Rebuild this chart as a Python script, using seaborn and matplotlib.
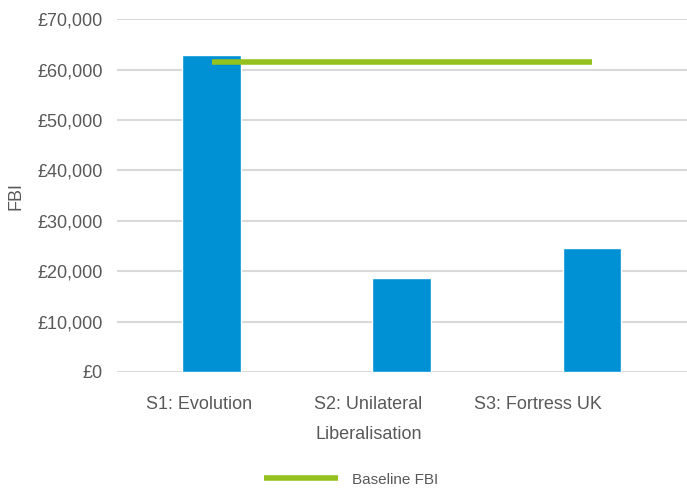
import seaborn as sns
import matplotlib.pyplot as plt
import matplotlib.ticker as mticker
import matplotlib.transforms as mtransforms
import numpy as np

# 데이터
categories = ["S1: Evolution", "S2: Unilateral\nLiberalisation", "S3: Fortress UK"]
fbi_values = [62900, 18600, 24600]
baseline_fbi = [61400, 61400, 61400]

sns.set_style("white")
plt.rcParams['font.family'] = ['Liberation Sans', 'DejaVu Sans']
grey = '#595959'

fig = plt.figure(figsize=(6.87, 4.91), dpi=100)
ax = fig.add_axes([0.170, 0.2424, 0.83, 0.7186])

sns.barplot(x=categories, y=fbi_values, color='#0091D5', width=0.31,
            saturation=1, ax=ax, zorder=3)

x_pos = np.arange(len(categories))
line, = ax.plot(x_pos, baseline_fbi, color='#95C11F', linewidth=4, zorder=4,
                solid_capstyle='butt')

ax.set_ylim(0, 70000)
ax.set_xlim(-0.5, 2.5)
ax.yaxis.set_major_locator(mticker.MultipleLocator(10000))
ax.yaxis.set_major_formatter(mticker.FuncFormatter(lambda v, p: f"£{v:,.0f}"))
ax.grid(axis='y', color='#D9D9D9', linewidth=1.5, zorder=0)
ax.set_axisbelow(True)
sns.despine(ax=ax, left=True, bottom=True, top=True, right=True)

ax.tick_params(axis='y', length=0, pad=10, labelsize=13, labelcolor=grey)
ax.tick_params(axis='x', length=0, pad=17, labelsize=13, labelcolor=grey)
ax.set_xticks(x_pos, labels=categories, linespacing=2.0)

# 원본처럼 카테고리 라벨을 왼쪽으로 조금씩 이동
for i, lbl in enumerate(ax.get_xticklabels()):
    dx = -(13 + 20.5 * i) / 100
    lbl.set_transform(lbl.get_transform() +
                      mtransforms.ScaledTranslation(dx, 0, fig.dpi_scale_trans))

ax.set_ylabel("FBI", fontsize=13, color=grey, labelpad=9)
ax.set_xlabel("")

fig.legend(handles=[line], labels=["Baseline FBI"], loc='lower center',
           bbox_to_anchor=(0.511, -0.019), frameon=False, fontsize=11,
           handlelength=4.9, handletextpad=0.9, labelcolor=grey)

plt.savefig("out.png", dpi=100)
